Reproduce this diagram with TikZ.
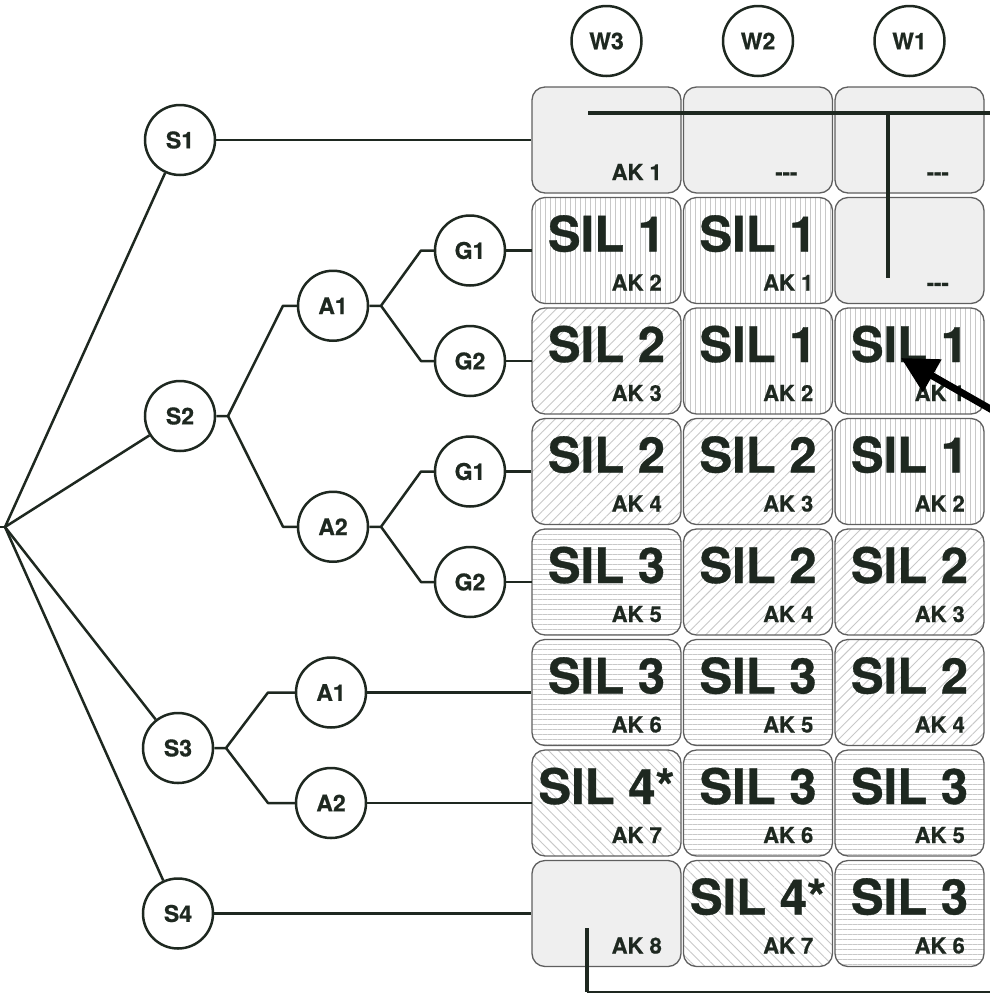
\documentclass[tikz,border=0pt]{standalone}
\usepackage{fontspec}
\setmainfont{TeX Gyre Heros}
\newfontfamily\heavyfont{TeX Gyre Heros}[BoldFeatures={FakeBold=0.7}]
\usetikzlibrary{patterns.meta,arrows.meta,calc}
\definecolor{ink}{RGB}{30,40,32}
\definecolor{plainbg}{RGB}{239,239,239}
\definecolor{cellborder}{RGB}{95,95,95}
\definecolor{hatch}{RGB}{200,200,200}
% #1 row, #2 col, #3 style, #4 SIL text, #5 AK text
\newcommand\silcell[5]{%
  \node[#3] (c#1#2) at ({532+151.5*#2+74.5},{87+110.5*#1+53}) {};
  \node[sil] (s#1#2) at ({532+151.5*#2+74.5},{87+110.5*#1+54}) {#4};
  \node[ak] (k#1#2) at ({532+151.5*#2+130},{87+110.5*#1+93}) {#5};
}
% #1 row, #2 col, #3 text, #4 distance of text from right edge
\newcommand\emptycell[4]{%
  \node[plaincell] (c#1#2) at ({532+151.5*#2+74.5},{87+110.5*#1+53}) {};
  \node[ak] (k#1#2) at ({532+151.5*#2+149-#4},{87+110.5*#1+93}) {#3};
}
\begin{document}
\begin{tikzpicture}[x=1pt,y=-1pt,
  cellbase/.style={draw=cellborder, line width=1.3pt, rounded corners=13pt,
    minimum width=149pt, minimum height=106pt, inner sep=0pt},
  plaincell/.style={cellbase, fill=plainbg},
  vlines/.style={cellbase, pattern={Lines[angle=90,distance=5pt,line width=0.9pt]}, pattern color=hatch},
  hlines/.style={cellbase, pattern={Lines[angle=0,distance=5pt,line width=0.9pt]}, pattern color=hatch},
  nelines/.style={cellbase, pattern={Lines[angle=45,distance=7pt,line width=0.9pt]}, pattern color=hatch},
  nwlines/.style={cellbase, pattern={Lines[angle=-45,distance=7pt,line width=0.9pt]}, pattern color=hatch},
  sil/.style={font=\heavyfont\fontsize{49}{49}\selectfont\bfseries, text=ink, inner sep=0pt, anchor=base},
  ak/.style={font=\heavyfont\fontsize{22}{22}\selectfont\bfseries, text=ink, inner sep=0pt, anchor=base east},
  circ/.style={circle, draw=ink, line width=2.5pt, minimum size=70pt, inner sep=0pt,
    font=\heavyfont\fontsize{23}{23}\selectfont\bfseries, text=ink},
  tree/.style={draw=ink, line width=2.5pt, line join=round},
  heavyline/.style={draw=ink, line width=4.2pt},
]
\useasboundingbox (0,0) rectangle (990,994);

% header circles
\node[circ] (W3) at (606.5,41) {W3};
\node[circ] (W2) at (758,41) {W2};
\node[circ] (W1) at (909.5,41) {W1};

% cells: row 0
\emptycell{0}{0}{AK 1}{19}
\emptycell{0}{1}{{-}{-}{-}}{35}
\emptycell{0}{2}{{-}{-}{-}}{35}
% row 1
\silcell{1}{0}{vlines}{SIL 1}{AK 2}
\silcell{1}{1}{vlines}{SIL 1}{AK 1}
\emptycell{1}{2}{{-}{-}{-}}{35}
% row 2
\silcell{2}{0}{nelines}{SIL 2}{AK 3}
\silcell{2}{1}{vlines}{SIL 1}{AK 2}
\silcell{2}{2}{vlines}{SIL 1}{AK 1}
% row 3
\silcell{3}{0}{nelines}{SIL 2}{AK 4}
\silcell{3}{1}{nelines}{SIL 2}{AK 3}
\silcell{3}{2}{vlines}{SIL 1}{AK 2}
% row 4
\silcell{4}{0}{hlines}{SIL 3}{AK 5}
\silcell{4}{1}{nelines}{SIL 2}{AK 4}
\silcell{4}{2}{nelines}{SIL 2}{AK 3}
% row 5
\silcell{5}{0}{hlines}{SIL 3}{AK 6}
\silcell{5}{1}{hlines}{SIL 3}{AK 5}
\silcell{5}{2}{nelines}{SIL 2}{AK 4}
% row 6
\silcell{6}{0}{nwlines}{SIL 4*}{AK 7}
\silcell{6}{1}{hlines}{SIL 3}{AK 6}
\silcell{6}{2}{hlines}{SIL 3}{AK 5}
% row 7
\emptycell{7}{0}{AK 8}{19}
\silcell{7}{1}{nwlines}{SIL 4*}{AK 7}
\silcell{7}{2}{hlines}{SIL 3}{AK 6}

% tree nodes
\coordinate (rootL) at (0,527);
\coordinate (root) at (5,527);
\node[circ] (S1) at (180,140) {S1};
\node[circ] (S2) at (180,416) {S2};
\node[circ] (S3) at (178,748) {S3};
\node[circ] (S4) at (178,913.5) {S4};
\node[circ] (A1a) at (333,305.75) {A1};
\node[circ] (A2a) at (333,526.75) {A2};
\node[circ] (G1a) at (470,250.5) {G1};
\node[circ] (G2a) at (470,361) {G2};
\node[circ] (G1b) at (470,471.5) {G1};
\node[circ] (G2b) at (470,582) {G2};
\node[circ] (A1b) at (331,692.5) {A1};
\node[circ] (A2b) at (331,803) {A2};

% fork points and elbows
\coordinate (f2) at (228,416);
\coordinate (e2a) at (283,305.75);
\coordinate (e2b) at (283,526.75);
\coordinate (fA1) at (381,305.75);
\coordinate (eA1a) at (421,250.5);
\coordinate (eA1b) at (421,361);
\coordinate (fA2) at (381,526.75);
\coordinate (eA2a) at (421,471.5);
\coordinate (eA2b) at (421,582);
\coordinate (f3) at (226,748);
\coordinate (e3a) at (268,692.5);
\coordinate (e3b) at (268,803);

% root fan
\draw[tree] (rootL) -- (root);
\draw[tree] (root) -- (S1);
\draw[tree] (root) -- (S2);
\draw[tree] (root) -- (S3);
\draw[tree] (root) -- (S4);

% branches
\draw[tree] (S2.east) -- (f2) -- (e2a) -- (A1a.west);
\draw[tree] (f2) -- (e2b) -- (A2a.west);
\draw[tree] (A1a.east) -- (fA1) -- (eA1a) -- (G1a.west);
\draw[tree] (fA1) -- (eA1b) -- (G2a.west);
\draw[tree] (A2a.east) -- (fA2) -- (eA2a) -- (G1b.west);
\draw[tree] (fA2) -- (eA2b) -- (G2b.west);
\draw[tree] (S3.east) -- (f3) -- (e3a) -- (A1b.west);
\draw[tree] (f3) -- (e3b) -- (A2b.west);

% to the cells
\draw[tree] (S1.east) -- (c00.west);
\draw[tree] (G1a.east) -- (c10.west);
\draw[tree] (G2a.east) -- (c20.west);
\draw[tree] (G1b.east) -- (c30.west);
\draw[tree] (G2b.east) -- (c40.west);
\draw[tree] (A1b.east) -- (c50.west);
\draw[tree] (A2b.east) -- (c60.west);
\draw[tree] (S4.east) -- (c70.west);

% heavy lines over the grid
\coordinate (h1) at (588,113);
\coordinate (h2) at (990,113);
\coordinate (v1) at (888,113);
\coordinate (v2) at (888,278);
\draw[heavyline] (h1) -- (h2);
\draw[heavyline] (v1) -- (v2);
\coordinate (b1) at (587,928);
\coordinate (b2) at (587,992);
\coordinate (b3) at (990,992);
\draw[heavyline] (b1) -- (b2);
\draw[draw=ink, line width=2.5pt] (b2) -- (b3);

% arrow
\coordinate (arT) at (994,411);
\coordinate (arH) at (901,358);
\draw[draw=black, line width=7pt, -{Triangle[length=36pt,width=36pt]}] (arT) -- (arH);
\end{tikzpicture}
\end{document}
